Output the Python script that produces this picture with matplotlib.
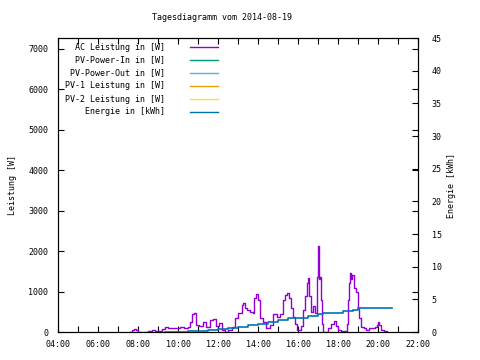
import datetime
import matplotlib
matplotlib.use("Agg")
import matplotlib.pyplot as plt
import matplotlib.dates as mdates
from matplotlib.lines import Line2D

# Tagesdiagramm 2014-08-19
tag = "2014-08-19"

ac_zeit = ["07:33", "07:42", "07:48", "07:54", "08:00", "08:21", "08:30", "08:42", "08:51", "09:00",
           "09:12", "09:21", "09:30", "09:42", "09:54", "10:06", "10:18", "10:30", "10:36", "10:42",
           "10:48", "10:54", "11:03", "11:15", "11:24", "11:36", "11:45", "11:54", "12:03", "12:12",
           "12:21", "12:30", "12:42", "12:51", "13:00", "13:12", "13:15", "13:21", "13:27", "13:36",
           "13:45", "13:48", "13:54", "14:00", "14:06", "14:15", "14:24", "14:36", "14:45", "14:57",
           "15:06", "15:15", "15:21", "15:27", "15:33", "15:39", "15:45", "15:51", "15:57", "16:03",
           "16:09", "16:15", "16:21", "16:27", "16:30", "16:33", "16:39", "16:45", "16:51", "16:57",
           "17:00", "17:03", "17:06", "17:09", "17:12", "17:15", "17:24", "17:30", "17:39", "17:48",
           "17:54", "18:00", "18:09", "18:21", "18:27", "18:30", "18:33", "18:36", "18:39", "18:42",
           "18:48", "18:54", "19:00", "19:03", "19:09", "19:18", "19:24", "19:33", "19:42", "19:51",
           "19:57", "20:00", "20:03", "20:09", "20:18", "20:27"]
ac_leistung = [0, 50, 75, 40, 0, 0, 30, 60, 20, 30,
               80, 130, 100, 110, 90, 120, 110, 130, 250, 450,
               470, 180, 160, 250, 120, 300, 310, 150, 230, 50,
               0, 60, 120, 350, 480, 670, 720, 600, 550, 500,
               470, 850, 940, 800, 350, 250, 100, 170, 450, 380,
               450, 800, 920, 970, 850, 600, 380, 200, 50, 50,
               150, 550, 900, 1200, 1340, 900, 500, 650, 480, 1350,
               2130, 1300, 1360, 800, 200, 0, 0, 100, 200, 280,
               150, 50, 30, 30, 200, 800, 1200, 1460, 1300, 1400,
               1100, 1000, 600, 350, 130, 100, 60, 100, 90, 120,
               180, 250, 170, 60, 30, 0]

energie_zeit = ["09:21", "10:30", "11:30", "12:00", "12:30", "13:00", "13:30", "14:00", "14:30", "15:00",
                "15:30", "16:00", "16:30", "17:00", "17:15", "18:00", "18:15", "18:45", "19:00", "19:15",
                "20:42"]
energie = [0.0, 0.15, 0.3, 0.4, 0.55, 0.8, 1.1, 1.3, 1.6, 1.8,
           2.1, 2.2, 2.4, 2.7, 2.9, 2.9, 3.2, 3.4, 3.6, 3.7,
           3.7]

# PV-Werte fehlen an diesem Tag
pv_in = []
pv_out = []
pv1 = []
pv2 = []

def zeit(s):
    return datetime.datetime.strptime(tag + " " + s, "%Y-%m-%d %H:%M")

plt.rcParams['font.family'] = ['DejaVu Sans Mono']
plt.rcParams['font.size'] = 6

fig = plt.figure(figsize=(4.8, 3.6), dpi=100)
fig.set_facecolor('white')
ax = fig.add_axes([58/480, 1-332/360, 360/480, 294/360])
ax2 = ax.twinx()

l_ac, = ax.plot([zeit(t) for t in ac_zeit], ac_leistung, color='#9400D3', lw=1, drawstyle='steps-post')
l_in, = ax.plot(pv_in, pv_in, color='#009E73', lw=1)
l_out, = ax.plot(pv_out, pv_out, color='#56B4E9', lw=1)
l_1, = ax.plot(pv1, pv1, color='#E69F00', lw=1)
l_2, = ax.plot(pv2, pv2, color='#F0E442', lw=1)
l_en, = ax2.plot([zeit(t) for t in energie_zeit], energie, color='#0072B2', lw=1.2, drawstyle='steps-post')

ax.set_xlim(zeit("04:00"), zeit("22:00"))
ax.set_ylim(0, 7270)
ax2.set_ylim(0, 45)
ax.set_yticks(range(0, 8000, 1000))
ax2.set_yticks(range(0, 50, 5))
ax.xaxis.set_major_locator(mdates.HourLocator(byhour=range(0, 24, 2)))
ax.xaxis.set_minor_locator(mdates.HourLocator())
ax.xaxis.set_major_formatter(mdates.DateFormatter("%H:%M"))

ax.tick_params(axis='both', which='both', direction='in', length=4, width=0.8, top=True, pad=5)
ax.tick_params(axis='y', right=True, pad=7)
ax.tick_params(axis='x', pad=6)
ax2.tick_params(axis='y', direction='in', length=4, width=0.8, pad=10)
for a in (ax, ax2):
    for s in a.spines.values():
        s.set_linewidth(0.8)

ax.set_ylabel("Leistung [W]", labelpad=8)
ax2.set_ylabel("Energie [kWh]", labelpad=4)
fig.text(222/480, 1-18/360, "Tagesdiagramm vom 2014-08-19", ha='center', va='center')

# Legende, Text rechtsbuendig wie bei gnuplot
eintraege = [(l_ac, "AC Leistung in [W]"), (l_in, "PV-Power-In in [W]"),
             (l_out, "PV-Power-Out in [W]"), (l_1, "PV-1 Leistung in [W]"),
             (l_2, "PV-2 Leistung in [W]"), (l_en, "Energie in [kWh]")]
for i, (linie, text) in enumerate(eintraege):
    y = 1 - (47 + i * 13) / 360
    fig.text(165/480, y, text, ha='right', va='center')
    fig.add_artist(Line2D([190/480, 218/480], [y, y], transform=fig.transFigure,
                          color=linie.get_color(), lw=1))

plt.savefig("out.png", dpi=100)
plt.close()
